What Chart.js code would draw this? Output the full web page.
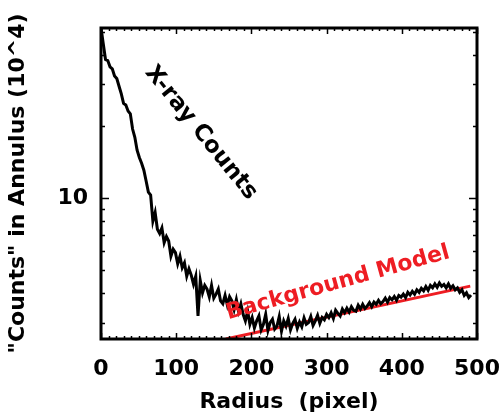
<!DOCTYPE html>
<html>
<head>
<meta charset="utf-8">
<script src="https://cdn.jsdelivr.net/npm/chart.js@4.4.1/dist/chart.umd.min.js"></script>
<style>
  html, body { margin: 0; padding: 0; background: #fff; }
</style>
</head>
<body>
<canvas id="chart" width="502" height="417"></canvas>
<script>
/* radial profile: counts per annulus vs radius */

const RADIUS = [
  0, 3, 6, 9, 12, 15, 18, 21, 24, 27, 30, 33, 36, 39, 42, 45, 48, 51, 54, 57, 60,
  63, 66, 69, 72, 75, 78, 81, 84, 87, 90, 93, 96, 99, 102, 105, 108, 111, 114, 117, 120,
  123, 126, 129, 132, 135, 138, 141, 144, 147, 150, 153, 156, 159, 162, 165, 168, 171, 174, 177, 180,
  183, 186, 189, 192, 195, 198,
  201, 204, 207, 210, 213, 216, 219, 222, 225, 228, 231, 234, 237, 240, 243, 246, 249, 252, 255, 258,
  261, 264, 267, 270, 273, 276, 279, 282, 285, 288, 291, 294, 297, 300,
  303, 306, 309, 312, 315, 318, 321, 324, 327, 330, 333, 336, 339, 342, 345, 348, 351, 354, 357, 360,
  363, 366, 369, 372, 375, 378, 381, 384, 387, 390, 393, 396, 399, 402, 405, 408, 411, 414, 417, 420,
  423, 426, 429, 432, 435, 438, 441, 444, 447, 450, 453, 456, 459, 462, 465, 468, 471, 474, 477, 480,
  483, 486, 489, 492
];

const COUNTS = [
  52, 44.5, 38.2, 37.8, 35.6, 34.9, 32.6, 31.8, 29.5, 27.4, 25.0, 24.6, 23.2, 22.6, 19.5, 18.0, 15.9, 14.8, 14.0, 13.1, 11.8,
  10.6, 10.3, 8.0, 8.7, 7.4, 7.1, 7.5, 6.5, 6.9, 6.6, 5.7, 6.1, 5.9, 5.3, 5.7, 5.1, 5.35, 4.7, 5.05, 4.75,
  4.35, 4.7, 3.2, 4.5, 4.0, 4.3, 4.15, 3.85, 4.3, 3.8, 3.95, 4.15, 3.7, 3.6, 3.9, 3.55, 3.85, 3.7, 3.4, 3.75,
  3.35, 3.6, 3.25, 3.05, 3.35, 2.95,
  3.15, 2.85, 3.05, 3.2, 2.8, 2.95, 3.25, 2.78, 3.0, 3.1, 2.82, 2.9, 3.18, 2.76, 3.05, 2.9, 3.12, 2.8, 2.98, 3.1,
  2.84, 3.02, 2.88, 3.14, 2.95, 3.0, 3.18, 2.92, 3.05, 3.22, 2.98, 3.15, 3.08, 3.25,
  3.15, 3.3, 3.12, 3.38, 3.28, 3.2, 3.42, 3.3, 3.45, 3.32, 3.5, 3.38, 3.35, 3.55, 3.42, 3.58, 3.44, 3.52, 3.64, 3.5,
  3.66, 3.58, 3.72, 3.6, 3.68, 3.8, 3.65, 3.82, 3.74, 3.86, 3.72, 3.9, 3.84, 3.95, 3.82, 4.02, 3.92, 4.06, 3.95, 4.12,
  4.02, 4.18, 4.08, 4.25, 4.1, 4.3, 4.2, 4.36, 4.22, 4.4, 4.26, 4.34, 4.2, 4.36, 4.18, 4.28, 4.12, 4.2, 4.02, 4.12,
  3.9, 4.0, 3.82, 3.92
];

// background model: straight line on the log axis
const MODEL_RADIUS = [166, 491];
const MODEL_COUNTS = [2.56, 4.27];

const X_LABELS = [0, 100, 200, 300, 400, 500];
const Y_TICKS = [3, 4, 5, 6, 7, 8, 9, 10, 20, 30, 40, 50];
const Y_LABELS = [10];

const FONT = { family: "'DejaVu Sans', sans-serif", weight: "bold", size: 22 };

const NOTES = [
  { text: "X-ray Counts", x: 133, y: 18.8, angle: 51, color: "#000", size: 23 },
  { text: "Background Model", x: 315, y: 4.4, angle: -15.5, color: "#ee1d23", size: 22 },
];

// frame, inward ticks and text labels
const framePlugin = {
  id: "frame",
  afterDraw(chart) {
    const { ctx, chartArea: a, scales: { x, y } } = chart;
    ctx.save();
    ctx.strokeStyle = "#000";
    ctx.lineWidth = 1.5;
    x.ticks.forEach(t => {
      const px = Math.round(x.getPixelForValue(t.value)) + 0.5;
      const len = t.value % 100 === 0 ? 6 : 3;
      ctx.beginPath();
      ctx.moveTo(px, a.bottom); ctx.lineTo(px, a.bottom - len);
      ctx.moveTo(px, a.top); ctx.lineTo(px, a.top + len);
      ctx.stroke();
    });
    y.ticks.forEach(t => {
      const py = Math.round(y.getPixelForValue(t.value)) + 0.5;
      const len = Y_LABELS.includes(t.value) ? 8 : 4;
      ctx.beginPath();
      ctx.moveTo(a.left, py); ctx.lineTo(a.left + len, py);
      ctx.moveTo(a.right, py); ctx.lineTo(a.right - len, py);
      ctx.stroke();
    });
    ctx.lineWidth = 3;
    ctx.strokeRect(a.left, a.top, a.right - a.left, a.bottom - a.top);

    NOTES.forEach(n => {
      ctx.save();
      ctx.translate(x.getPixelForValue(n.x), y.getPixelForValue(n.y));
      ctx.rotate(n.angle * Math.PI / 180);
      ctx.font = `bold ${n.size}px ${FONT.family}`;
      ctx.fillStyle = n.color;
      ctx.textAlign = "center";
      ctx.textBaseline = "middle";
      ctx.fillText(n.text, 0, 0);
      ctx.restore();
    });
    ctx.restore();
  }
};

new Chart(document.getElementById("chart"), {
  type: "line",
  data: {
    datasets: [
      {
        data: RADIUS.map((r, i) => ({ x: r, y: COUNTS[i] })),
        borderColor: "#000",
        borderWidth: 3,
        pointRadius: 0,
        tension: 0,
      },
      {
        data: MODEL_RADIUS.map((r, i) => ({ x: r, y: MODEL_COUNTS[i] })),
        borderColor: "#ee1d23",
        borderWidth: 3,
        pointRadius: 0,
        tension: 0,
      }
    ]
  },
  options: {
    responsive: false,
    animation: false,
    devicePixelRatio: 1,
    layout: { padding: { top: 28, right: 25, left: 0, bottom: 0 } },
    plugins: { legend: { display: false }, tooltip: { enabled: false } },
    scales: {
      x: {
        type: "linear",
        min: 0,
        max: 500,
        afterFit(s) { s.height = 78; s.paddingLeft = 0; s.paddingRight = 0; },
        afterBuildTicks(s) {
          const t = [];
          for (let v = 0; v <= 500; v += 10) t.push({ value: v });
          s.ticks = t;
        },
        grid: { display: false, drawTicks: false },
        border: { display: false },
        ticks: {
          autoSkip: false,
          maxRotation: 0,
          padding: 17,
          color: "#000",
          font: FONT,
          callback: v => X_LABELS.includes(v) ? String(v) : ""
        },
        title: {
          display: true,
          text: "Radius  (pixel)",
          color: "#000",
          font: FONT,
          padding: { top: 0, bottom: 2 }
        }
      },
      y: {
        type: "logarithmic",
        min: 2.56,
        max: 51.8,
        afterFit(s) { s.width = 101; s.paddingTop = 0; s.paddingBottom = 0; },
        afterBuildTicks(s) { s.ticks = Y_TICKS.map(v => ({ value: v })); },
        grid: { display: false, drawTicks: false },
        border: { display: false },
        ticks: {
          autoSkip: false,
          padding: 13,
          color: "#000",
          font: FONT,
          callback: v => Y_LABELS.includes(v) ? String(v) : ""
        },
        title: {
          display: true,
          text: "\"Counts\" in Annulus (10^4)",
          color: "#000",
          font: FONT,
          padding: { top: 5, bottom: 0 }
        }
      }
    }
  },
  plugins: [framePlugin]
});
</script>
</body>
</html>
